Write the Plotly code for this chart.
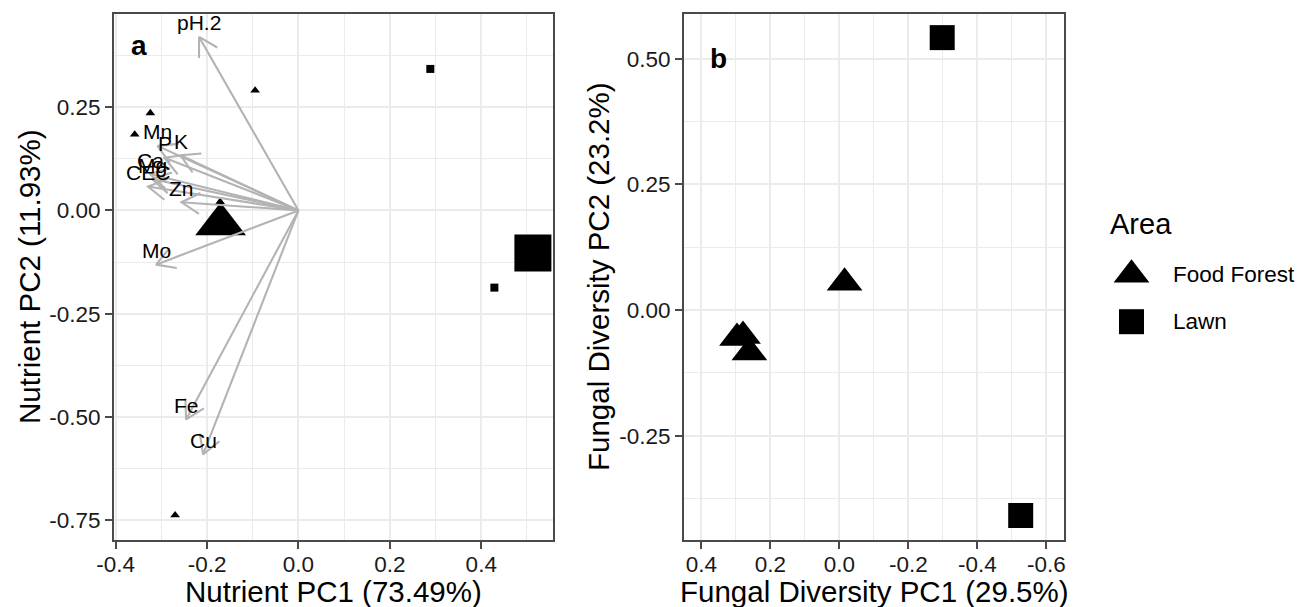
import math
import plotly.graph_objects as go

W, H = 1309, 607

# ---------------- data ----------------
# Panel a: nutrient PCA scores
ff_nut_pc1 = [-0.0949, -0.3242, -0.3584, -0.2700, -0.1715]
ff_nut_pc2 = [0.2906, 0.2357, 0.1840, -0.7380, 0.0210]
lawn_nut_pc1 = [0.2885, 0.4287]
lawn_nut_pc2 = [0.3426, -0.1869]
ff_nut_centroid = [-0.1704, -0.0336]
lawn_nut_centroid = [0.5130, -0.1030]

# Panel a: nutrient loadings (arrows)
nutrients = ["pH.2", "Mn", "P", "K", "Ca", "Mg", "CEC", "Zn", "Mo", "Fe", "Cu"]
load_pc1 = [-0.2175, -0.3084, -0.2931, -0.2581, -0.3249, -0.3205, -0.3292, -0.2559, -0.3117, -0.2460, -0.2088]
load_pc2 = [0.4200, 0.1564, 0.1274, 0.1335, 0.0880, 0.0759, 0.0580, 0.0198, -0.1313, -0.5061, -0.5907]

# Panel b: fungal diversity PCA scores
ff_fun_pc1 = [0.2968, 0.2794, 0.2609, -0.0150]
ff_fun_pc2 = [-0.0557, -0.0517, -0.0843, 0.0543]
lawn_fun_pc1 = [-0.2980, -0.5255]
lawn_fun_pc2 = [0.5420, -0.4088]

areas = ["Food Forest", "Lawn"]

# ticks
a_xticks = [-0.4, -0.2, 0.0, 0.2, 0.4]
a_xlabels = ["-0.4", "-0.2", "0.0", "0.2", "0.4"]
a_yticks = [0.25, 0.0, -0.25, -0.5, -0.75]
a_ylabels = ["0.25", "0.00", "-0.25", "-0.50", "-0.75"]
b_xticks = [0.4, 0.2, 0.0, -0.2, -0.4, -0.6]
b_xlabels = ["0.4", "0.2", "0.0", "-0.2", "-0.4", "-0.6"]
b_yticks = [0.5, 0.25, 0.0, -0.25]
b_ylabels = ["0.50", "0.25", "0.00", "-0.25"]

# ---------------- layout geometry (px) ----------------
A_X0, A_X1 = 114, 553
B_X0, B_X1 = 684, 1064
P_Y0, P_Y1 = 14, 540
a_xrange = [-0.4037, 0.557]
a_yrange = [-0.798, 0.4756]
b_xrange = [0.4504, -0.651]
b_yrange = [-0.4575, 0.589]

FONT = "Liberation Sans, Arial, Helvetica, sans-serif"
GRID = "#EBEBEB"
BORDER = "#4a4a4a"
ARROW = "#B3B3B3"
TICKF = 22.5
TITLEF = 29.5

# legend box (pixel-space overlay axis)
L_X0, L_X1, L_Y0, L_Y1 = 1085, 1309, 190, 360


def fx(px):
    return px / W


def fy(py):
    return 1 - py / H


fig = go.Figure()

# ---------- panel a points ----------
fig.add_trace(go.Scatter(x=ff_nut_pc1, y=ff_nut_pc2, mode="markers", xaxis="x", yaxis="y",
                         marker=dict(symbol="triangle-up", size=8.5, color="black"),
                         showlegend=False, hoverinfo="skip"))
fig.add_trace(go.Scatter(x=lawn_nut_pc1, y=lawn_nut_pc2, mode="markers", xaxis="x", yaxis="y",
                         marker=dict(symbol="square", size=8, color="black"),
                         showlegend=False, hoverinfo="skip"))
fig.add_trace(go.Scatter(x=[ff_nut_centroid[0]], y=[ff_nut_centroid[1]], mode="markers", xaxis="x", yaxis="y",
                         marker=dict(symbol="triangle-up", size=44, color="black"),
                         showlegend=False, hoverinfo="skip"))
fig.add_trace(go.Scatter(x=[lawn_nut_centroid[0]], y=[lawn_nut_centroid[1]], mode="markers", xaxis="x", yaxis="y",
                         marker=dict(symbol="square", size=37, color="black"),
                         showlegend=False, hoverinfo="skip"))

# ---------- panel a arrows ----------
sx = (A_X1 - A_X0) / (a_xrange[1] - a_xrange[0])
sy = (P_Y1 - P_Y0) / (a_yrange[1] - a_yrange[0])
HEAD_LEN = 21.0
HEAD_ANG = math.radians(30)
ax_, ay_ = [], []
for lx, ly in zip(load_pc1, load_pc2):
    px, py = lx * sx, ly * sy
    d = math.hypot(px, py)
    ux, uy = -px / d, -py / d
    heads = []
    for a in (HEAD_ANG, -HEAD_ANG):
        rx = ux * math.cos(a) - uy * math.sin(a)
        ry = ux * math.sin(a) + uy * math.cos(a)
        heads.append(((px + HEAD_LEN * rx) / sx, (py + HEAD_LEN * ry) / sy))
    ax_ += [0, lx, None, heads[0][0], lx, heads[1][0], None]
    ay_ += [0, ly, None, heads[0][1], ly, heads[1][1], None]
fig.add_trace(go.Scatter(x=ax_, y=ay_, mode="lines", xaxis="x", yaxis="y",
                         line=dict(color=ARROW, width=2.1), showlegend=False, hoverinfo="skip"))

annotations = []
for name, lx, ly in zip(nutrients, load_pc1, load_pc2):
    annotations.append(dict(x=lx, y=ly, xref="x", yref="y", text=name, showarrow=False,
                            yshift=14, font=dict(family=FONT, size=21, color="black")))

# ---------- panel b points ----------
fig.add_trace(go.Scatter(x=ff_fun_pc1, y=ff_fun_pc2, mode="markers", xaxis="x2", yaxis="y2",
                         marker=dict(symbol="triangle-up", size=31, color="black"),
                         showlegend=False, hoverinfo="skip"))
fig.add_trace(go.Scatter(x=lawn_fun_pc1, y=lawn_fun_pc2, mode="markers", xaxis="x2", yaxis="y2",
                         marker=dict(symbol="square", size=25, color="black"),
                         showlegend=False, hoverinfo="skip"))

# ---------- manual legend ----------
LEG_X, LEG_Y0, LEG_DY = 1131.5, 274.7, 47.0
symbols = {"Food Forest": ("triangle-up", 31), "Lawn": ("square", 25)}
for i, area in enumerate(areas):
    sym, sz = symbols[area]
    cy = LEG_Y0 + i * LEG_DY
    fig.add_trace(go.Scatter(x=[LEG_X], y=[cy], mode="markers", xaxis="x3", yaxis="y3",
                             marker=dict(symbol=sym, size=sz, color="black"), cliponaxis=False,
                             showlegend=False, hoverinfo="skip"))
    annotations.append(dict(x=1170.5, y=cy, xref="x3", yref="y3", text=area, showarrow=False,
                            xanchor="left", yanchor="middle",
                            font=dict(family=FONT, size=TICKF, color="black")))
annotations.append(dict(x=1108, y=224, xref="x3", yref="y3", text="Area", showarrow=False,
                        xanchor="left", yanchor="middle",
                        font=dict(family=FONT, size=29, color="black")))

# ---------- panel tags ----------
annotations.append(dict(x=-0.35, y=0.40, xref="x", yref="y", text="<b>a</b>", showarrow=False,
                        font=dict(family=FONT, size=28, color="black")))
annotations.append(dict(x=0.35, y=0.50, xref="x2", yref="y2", text="<b>b</b>", showarrow=False,
                        font=dict(family=FONT, size=28, color="black")))

# ---------- axis titles ----------
tfont = dict(family=FONT, size=TITLEF, color="black")
annotations += [
    dict(x=fx((A_X0 + A_X1) / 2), y=fy(591), xref="paper", yref="paper", text="Nutrient PC1 (73.49%)",
         showarrow=False, xanchor="center", yanchor="middle", font=tfont),
    dict(x=fx((B_X0 + B_X1) / 2), y=fy(591), xref="paper", yref="paper", text="Fungal Diversity PC1 (29.5%)",
         showarrow=False, xanchor="center", yanchor="middle", font=tfont),
    dict(x=fx(29), y=fy((P_Y0 + P_Y1) / 2), xref="paper", yref="paper", text="Nutrient PC2 (11.93%)",
         showarrow=False, xanchor="center", yanchor="middle", textangle=-90, font=tfont),
    dict(x=fx(598), y=fy((P_Y0 + P_Y1) / 2), xref="paper", yref="paper", text="Fungal Diversity PC2 (23.2%)",
         showarrow=False, xanchor="center", yanchor="middle", textangle=-90, font=tfont),
]


def axis(domain, rng, tickvals, ticktext, minor_dtick, anchor, standoff=0):
    return dict(domain=domain, range=rng, anchor=anchor, tickmode="array", tickvals=tickvals,
                ticktext=ticktext, showgrid=True, gridcolor=GRID, gridwidth=2,
                minor=dict(dtick=minor_dtick, tick0=0, showgrid=True, gridcolor=GRID, gridwidth=1, ticks=""),
                zeroline=False, showline=True, mirror=True, linecolor=BORDER, linewidth=2,
                ticks="outside", ticklen=7, tickwidth=1.5, tickcolor=BORDER, ticklabelstandoff=standoff,
                tickfont=dict(family=FONT, size=TICKF, color="#1a1a1a"), automargin=False)


fig.update_layout(
    width=W, height=H, margin=dict(l=0, r=0, t=0, b=0),
    paper_bgcolor="white", plot_bgcolor="rgba(0,0,0,0)", showlegend=False,
    xaxis=axis([fx(A_X0), fx(A_X1)], a_xrange, a_xticks, a_xlabels, 0.1, "y", -4),
    yaxis=axis([fy(P_Y1), fy(P_Y0)], a_yrange, a_yticks, a_ylabels, 0.125, "x"),
    xaxis2=axis([fx(B_X0), fx(B_X1)], b_xrange, b_xticks, b_xlabels, 0.1, "y2", -4),
    yaxis2=axis([fy(P_Y1), fy(P_Y0)], b_yrange, b_yticks, b_ylabels, 0.125, "x2"),
    xaxis3=dict(domain=[fx(L_X0), fx(L_X1)], range=[L_X0, L_X1], visible=False, anchor="y3", fixedrange=True),
    yaxis3=dict(domain=[fy(L_Y1), fy(L_Y0)], range=[L_Y1, L_Y0], visible=False, anchor="x3", fixedrange=True),
    annotations=annotations,
    font=dict(family=FONT),
)

fig.write_html("out.html", config={"displayModeBar": False},
               post_script="document.body.style.margin='0';document.body.style.overflow='hidden';")
